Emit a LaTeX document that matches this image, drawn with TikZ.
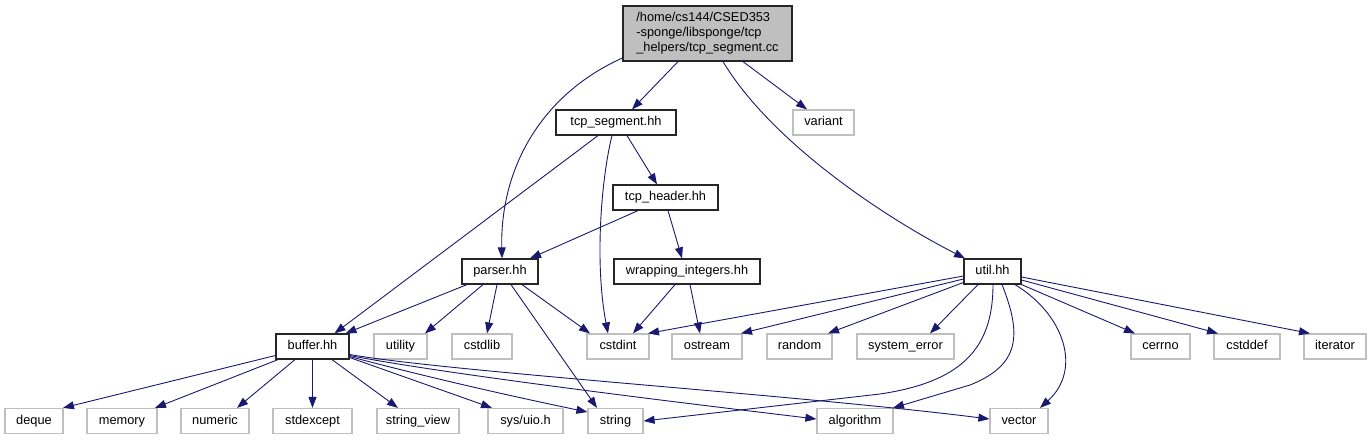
\documentclass[tikz,border=0pt]{standalone}
\usepackage{fontspec}
\setmainfont{Liberation Sans}
\usetikzlibrary{arrows.meta}
\definecolor{edgeblue}{RGB}{25,25,112}
\definecolor{sysgray}{RGB}{191,191,191}
\definecolor{rootgray}{RGB}{191,191,191}
\tikzset{
  box/.style={rectangle, inner sep=0pt, minimum height=25pt, line width=1.2pt,
    font=\fontsize{12.8}{15}\selectfont, fill=white, text height=9.3pt, text depth=2.7pt},
  sysbox/.style={box, draw=sysgray},
  localbox/.style={box, draw=black!85},
  rootbox/.style={rectangle, inner sep=0pt, line width=1.2pt, font=\fontsize{12.8}{15}\selectfont,
    draw=black!85, fill=rootgray, align=left, minimum height=55pt},
  edge/.style={draw=edgeblue, line width=0.9pt, -{Triangle[length=11pt,width=8pt]}},
}
\begin{document}
\begin{tikzpicture}[x=1pt,y=-1pt]
\useasboundingbox (0,0) rectangle (1372,440);
% row 1
\node[rootbox, minimum width=169pt] (top) at (707.5,33.5) {/home/cs144/CSED353\\-sponge/libsponge/tcp\\\_helpers/tcp\_segment.cc};
% row 2
\node[localbox, minimum width=120pt] (tcpseg) at (616,122.5) {tcp\_segment.hh};
\node[sysbox, minimum width=61pt] (variant) at (823.5,122.5) {variant};
% row 3
\node[localbox, minimum width=105pt] (tcphdr) at (665.5,197.5) {tcp\_header.hh};
% row 4
\node[localbox, minimum width=76pt] (parser) at (500,271.5) {parser.hh};
\node[localbox, minimum width=146pt] (wrap) at (687,271.5) {wrapping\_integers.hh};
\node[localbox, minimum width=57pt] (util) at (992.5,271.5) {util.hh};
% row 5
\node[localbox, minimum width=73pt] (buffer) at (312.5,346.5) {buffer.hh};
\node[sysbox, minimum width=53pt] (utility) at (400.5,346.5) {utility};
\node[sysbox, minimum width=60pt] (cstdlib) at (482,346.5) {cstdlib};
\node[sysbox, minimum width=62pt] (cstdint) at (618,346.5) {cstdint};
\node[sysbox, minimum width=70pt] (ostream) at (707,346.5) {ostream};
\node[sysbox, minimum width=65pt] (random) at (799.5,346.5) {random};
\node[sysbox, minimum width=97pt] (syserr) at (905.5,346.5) {system\_error};
\node[sysbox, minimum width=59pt] (cerrno) at (1160.5,346.5) {cerrno};
\node[sysbox, minimum width=66pt] (cstddef) at (1247,346.5) {cstddef};
\node[sysbox, minimum width=62pt] (iterator) at (1335,346.5) {iterator};
% row 6
\node[sysbox, minimum width=58pt] (deque) at (34,421) {deque};
\node[sysbox, minimum width=70pt] (memory) at (122,421) {memory};
\node[sysbox, minimum width=68pt] (numeric) at (215,421) {numeric};
\node[sysbox, minimum width=79pt] (stdexcept) at (312.5,421) {stdexcept};
\node[sysbox, minimum width=82pt] (strview) at (418,421) {string\_view};
\node[sysbox, minimum width=75pt] (sysuio) at (525.5,421) {sys/uio.h};
\node[sysbox, minimum width=55pt] (string) at (615.5,421) {string};
\node[sysbox, minimum width=76pt] (algorithm) at (855,421) {algorithm};
\node[sysbox, minimum width=58pt] (vector) at (1019,421) {vector};

% edges from root
\draw[edge] ([xshift=-29.5pt]top.south) -- ([xshift=16pt]tcpseg.north);
\draw[edge] ([xshift=35.5pt]top.south) -- ([xshift=-16.5pt]variant.north);
\draw[edge] ([yshift=-24.5pt]top.west) .. controls (540,95) and (500,170) .. ([xshift=2pt]parser.north);
\draw[edge] ([xshift=15.5pt]top.south) .. controls (770,140) and (880,215) .. ([xshift=-27.5pt]util.north);
% tcp_segment.hh
\draw[edge] ([xshift=-18pt]tcpseg.south) -- ([xshift=22pt]buffer.north);
\draw[edge] ([xshift=-4pt]tcpseg.south) .. controls (602,175) and (594,260) .. ([xshift=-10pt]cstdint.north);
\draw[edge] ([xshift=11pt]tcpseg.south) -- ([xshift=-8.5pt]tcphdr.north);
% tcp_header.hh
\draw[edge] ([xshift=-27.5pt]tcphdr.south) -- ([xshift=30pt]parser.north);
\draw[edge] ([xshift=2.5pt]tcphdr.south) -- ([xshift=-5pt]wrap.north);
% parser.hh
\draw[edge] ([xshift=-33pt]parser.south) -- ([xshift=33pt]buffer.north);
\draw[edge] ([xshift=-17pt]parser.south) -- ([xshift=24.5pt]utility.north);
\draw[edge] ([xshift=-3pt]parser.south) -- ([xshift=5pt]cstdlib.north);
\draw[edge] ([xshift=11pt]parser.south) -- ([xshift=-18.5pt]string.north);
\draw[edge] ([xshift=22pt]parser.south) -- ([xshift=-28pt]cstdint.north);
% wrapping_integers.hh
\draw[edge] ([xshift=-12pt]wrap.south) -- ([xshift=15pt]cstdint.north);
\draw[edge] ([xshift=3pt]wrap.south) -- ([xshift=-7pt]ostream.north);
% util.hh
\draw[edge] ([yshift=-4.5pt]util.west) -- ([xshift=30pt]cstdint.north);
\draw[edge] ([yshift=-7.5pt]util.west) -- ([xshift=34pt]ostream.north);
\draw[edge] ([yshift=-11pt]util.west) -- ([xshift=28.5pt]random.north);
\draw[edge] ([xshift=-14.5pt]util.south) -- ([xshift=24.5pt]syserr.north);
\draw[edge] ([xshift=0.5pt]util.south) .. controls (993,350) and (960,382) .. (880,394) -- (string.east);
\draw[edge] ([xshift=9.5pt]util.south) .. controls (1022,335) and (1020,365) .. (970,385) -- ([xshift=38pt]algorithm.north);
\draw[edge] ([xshift=22.5pt]util.south) .. controls (1065,315) and (1082,370) .. ([xshift=21pt]vector.north);
\draw[edge] (util.south east) -- ([xshift=-25.5pt]cerrno.north);
\draw[edge] ([yshift=-8.5pt]util.east) -- ([xshift=-29pt]cstddef.north);
\draw[edge] ([yshift=-5.5pt]util.east) -- ([xshift=-25pt]iterator.north);
% buffer.hh
\draw[edge] ([yshift=-9pt]buffer.west) -- ([xshift=29pt]deque.north);
\draw[edge] ([xshift=-34.5pt]buffer.south) -- ([xshift=33pt]memory.north);
\draw[edge] ([xshift=-17.5pt]buffer.south) -- ([xshift=22pt]numeric.north);
\draw[edge] (buffer.south) -- (stdexcept.north);
\draw[edge] ([xshift=19.5pt]buffer.south) -- ([xshift=-20pt]strview.north);
\draw[edge] ([yshift=-11pt]buffer.east) -- ([xshift=-33.5pt]sysuio.north);
\draw[edge] ([yshift=-10pt]buffer.east) .. controls (430,378) and (520,398) .. ([yshift=9pt]string.west);
\draw[edge] ([yshift=-9pt]buffer.east) .. controls (450,375) and (700,405) .. ([yshift=2pt]algorithm.west);
\draw[edge] ([yshift=-8pt]buffer.east) .. controls (450,372) and (800,395) .. ([yshift=2pt]vector.west);
\end{tikzpicture}
\end{document}
